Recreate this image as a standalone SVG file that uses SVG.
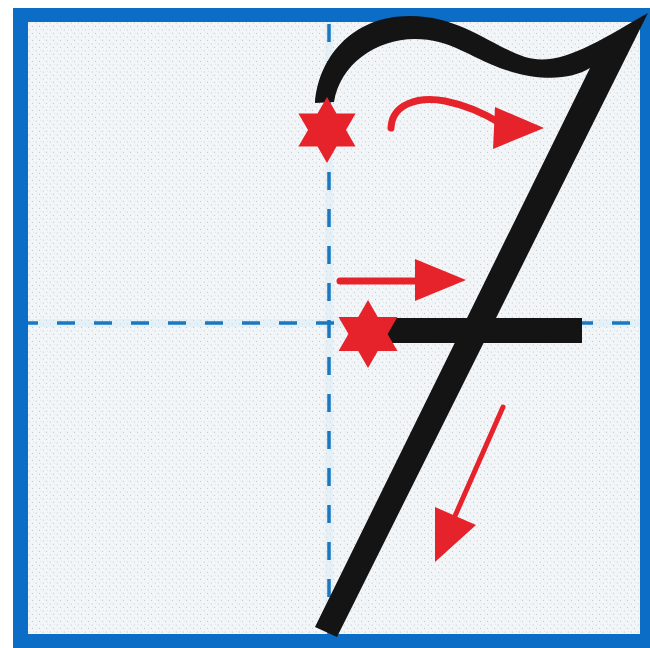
<svg xmlns="http://www.w3.org/2000/svg" width="650" height="648" viewBox="0 0 650 648">
  <defs>
    <pattern id="dots" width="7" height="7" patternUnits="userSpaceOnUse">
      <rect width="7" height="7" fill="#f3f6f8"/>
      <circle cx="1.2" cy="2" r="0.5" fill="#8d979f" opacity="0.75"/>
      <circle cx="4.6" cy="5.3" r="0.5" fill="#8d979f" opacity="0.75"/>
      <circle cx="5.4" cy="1.1" r="0.45" fill="#9aa3ab" opacity="0.6"/>
      <circle cx="2.6" cy="4.9" r="0.4" fill="#9aa3ab" opacity="0.5"/>
    </pattern>
    <path id="star" d="M0,-33 L9.5,-16.5 L28.6,-16.5 L19,0 L28.6,16.5 L9.5,16.5 L0,33 L-9.5,16.5 L-28.6,16.5 L-19,0 L-28.6,-16.5 L-9.5,-16.5 Z"/>
    <style>
      .halo { stroke: #d3ecf6; stroke-width: 8; fill: none; }
      .dash { stroke: #1b78c0; stroke-width: 3.5; fill: none; stroke-dasharray: 18 19; }
      .red { fill: #e6232b; }
      .shaft { stroke: #e6232b; fill: none; stroke-linecap: round; }
      .ink { fill: #141414; }
    </style>
  </defs>

  <rect width="650" height="648" fill="#ffffff"/>
  <g id="frame">
    <rect x="13" y="8" width="637" height="640" fill="#0b6dc6"/>
    <rect x="28" y="22" width="612" height="612" fill="url(#dots)"/>
  </g>

  <g id="guides">
    <line class="halo" x1="28" y1="323" x2="640" y2="323" opacity="0.4"/>
    <line class="halo" x1="329" y1="22" x2="329" y2="634" opacity="0.4"/>
    <line class="dash" x1="28" y1="323" x2="640" y2="323" stroke-dashoffset="8"/>
    <line class="dash" x1="329" y1="22" x2="329" y2="634" stroke-dashoffset="35"/>
  </g>

  <g id="digit">
    <path class="ink" d="M315,103 C318,60 350,16 410,16 C460,16 490,45 525,57 C560,68 600,40 648,13 L337,637 L315,627 L590,68 C570,80 540,82 500,68 C470,57 450,39 415,39 C375,39 340,65 334,102 Z"/>
    <rect class="ink" x="385" y="318" width="197" height="25"/>
  </g>

  <g id="stars">
    <use href="#star" class="red" transform="translate(327,130)"/>
    <use href="#star" class="red" transform="translate(368,334) scale(1.03)"/>
  </g>

  <g id="connectors">
    <path class="shaft" stroke-width="7" d="M391,128 C392,104 418,96 445,101 C465,105 485,114 500,123"/>
    <polygon class="red" points="495,107 544,128 493,149"/>
    <line class="shaft" stroke-width="7" x1="340" y1="281" x2="420" y2="281"/>
    <polygon class="red" points="415,259 466,280 415,301"/>
    <line class="shaft" stroke-width="5" x1="503" y1="407" x2="455" y2="516"/>
    <polygon class="red" points="435,507 476,525 435,562"/>
  </g>
</svg>
